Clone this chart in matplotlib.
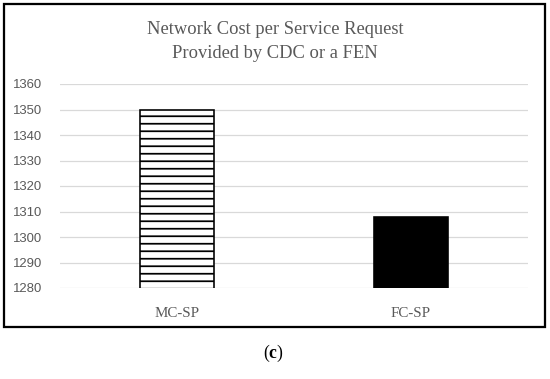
import matplotlib.pyplot as plt
from matplotlib.patches import Rectangle

# data
categories = ['MC-SP', 'FC-SP']
cost = [1350, 1308]
yticks = [1280, 1290, 1300, 1310, 1320, 1330, 1340, 1350, 1360]

plt.rcParams['hatch.linewidth'] = 1.4
plt.rcParams['hatch.color'] = 'black'
plt.rcParams['mathtext.fontset'] = 'custom'
plt.rcParams['mathtext.rm'] = 'Liberation Serif'
plt.rcParams['mathtext.bf'] = 'Liberation Serif:bold'

fig = plt.figure(figsize=(550 / 90, 379 / 90), dpi=90)
ax = fig.add_axes([60 / 550, 1 - 288 / 379, 468 / 550, 204 / 379])

bars = ax.bar(categories, cost, width=0.316, bottom=0, edgecolor='black', linewidth=1.3)
bars[0].set_facecolor('white')
bars[0].set_hatch('--')
bars[1].set_facecolor('black')

ax.set_ylim(1280, 1360)
ax.set_xlim(-0.5, 1.5)
ax.set_yticks(yticks)
ax.yaxis.grid(True, color='#d9d9d9', linewidth=1.0)
ax.set_axisbelow(True)
for s in ax.spines.values():
    s.set_visible(False)
ax.tick_params(length=0)
ax.tick_params(axis='y', pad=14, labelsize=10.5, labelcolor='#595959')
ax.tick_params(axis='x', pad=15, labelsize=12, labelcolor='#595959')
for lab in ax.get_yticklabels():
    lab.set_family('Liberation Sans')
for lab in ax.get_xticklabels():
    lab.set_family('Liberation Serif')

fig.text(0.5, 1 - 30 / 379, 'Network Cost per Service Request', ha='center', va='center',
         fontsize=14.8, color='#595959', family='Liberation Serif')
fig.text(0.5, 1 - 54 / 379, 'Provided by CDC or a FEN', ha='center', va='center',
         fontsize=14.8, color='#595959', family='Liberation Serif')

# outer frame
fig.patches.append(Rectangle((4 / 550, 1 - 327 / 379), 541 / 550, 323 / 379,
                             transform=fig.transFigure, fill=False,
                             edgecolor='black', linewidth=1.8))

fig.text(273 / 550, 1 - 353 / 379, r'($\mathbf{c}$)', ha='center', va='center',
         fontsize=14, family='Liberation Serif')

fig.savefig('out.png', dpi=90)
